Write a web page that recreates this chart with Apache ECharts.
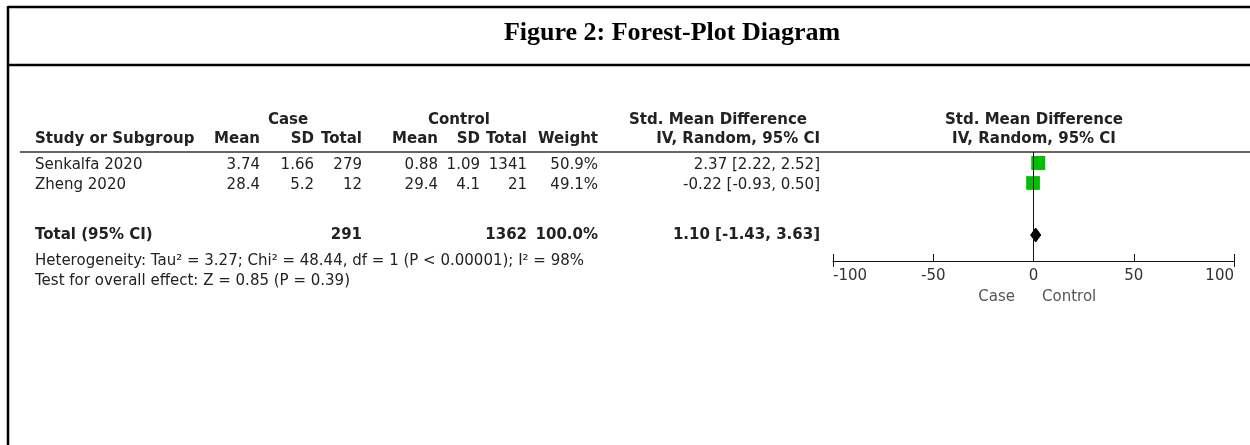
<!DOCTYPE html>
<html><head><meta charset="utf-8">
<script src="https://cdn.jsdelivr.net/npm/echarts@6/dist/echarts.min.js"></script>
<style>html,body{margin:0;padding:0;background:#fff}#c{width:1250px;height:445px}</style>
</head><body><div id="c"></div>
<script>
// ---- data ----
const studies   = ['Senkalfa 2020', 'Zheng 2020'];
const caseMean  = ['3.74', '28.4'];
const caseSD    = ['1.66', '5.2'];
const caseTotal = ['279', '12'];
const ctrlMean  = ['0.88', '29.4'];
const ctrlSD    = ['1.09', '4.1'];
const ctrlTotal = ['1341', '21'];
const weights   = [50.9, 49.1];
const smd       = [2.37, -0.22];
const ciLow     = [2.22, -0.93];
const ciHigh    = [2.52, 0.50];
const pooledEst = [1.10];
const pooledLow = [-1.43];
const pooledHigh= [3.63];
const totalCase = '291';
const totalCtrl = '1362';
const totalWeight = '100.0%';
const xTicks    = [-100, -50, 0, 50, 100];
const hetText   = 'Heterogeneity: Tau\u00b2 = 3.27; Chi\u00b2 = 48.44, df = 1 (P < 0.00001); I\u00b2 = 98%';
const testText  = 'Test for overall effect: Z = 0.85 (P = 0.39)';
const titleText = 'Figure 2: Forest-Plot Diagram';

// ---- layout (rows in y-axis units) ----
const studyRows = [0, 1];
const totalRow = 3.6;
const FONT = '"DejaVu Sans", sans-serif';
const FS = 15;
const TXT = '#222';

const chart = echarts.init(document.getElementById('c'), null, {renderer: 'canvas'});

const fmt = v => v.toFixed(2);
const ciLabels = smd.map((v, i) => `${fmt(v)} [${fmt(ciLow[i])}, ${fmt(ciHigh[i])}]`);
const pooledLabel = `${fmt(pooledEst[0])} [${fmt(pooledLow[0])}, ${fmt(pooledHigh[0])}]`;

const base = {
  animation: false,
  grid: {left: 833, right: 16, top: 152, height: 109, containLabel: false},
  xAxis: [{
    type: 'value', min: -100, max: 100, interval: 50, position: 'bottom',
    axisLine: {show: true, onZero: false, lineStyle: {color: '#111', width: 1}},
    axisTick: {show: true, inside: true, length: 7, lineStyle: {color: '#111'}},
    axisLabel: {color: '#333', fontSize: FS, fontFamily: FONT, margin: 8,
      alignMinLabel: 'left', alignMaxLabel: 'right'},
    splitLine: {show: false}
  }, {
    type: 'value', min: -100, max: 100, position: 'bottom', offset: 0,
    axisLine: {show: false, onZero: false},
    axisTick: {show: true, inside: false, length: 6, customValues: [-100, 100], lineStyle: {color: '#111'}},
    axisLabel: {show: false},
    splitLine: {show: false}
  }],
  yAxis: {type: 'value', inverse: true, min: -0.55, max: 4.9, show: false},
  series: [{
    type: 'custom', z: 2,
    renderItem: (params, api) => {
      const a = api.coord([api.value(0), api.value(2)]);
      const b = api.coord([api.value(1), api.value(2)]);
      return {type: 'line', shape: {x1: a[0], y1: a[1], x2: b[0], y2: b[1]}, style: {stroke: '#000', lineWidth: 1}};
    },
    data: studyRows.map((r, i) => [ciLow[i], ciHigh[i], r]),
    markLine: {
      silent: true, symbol: 'none', label: {show: false},
      lineStyle: {color: '#111', width: 1, type: 'solid'},
      data: [{xAxis: 0}]
    }
  }, {
    type: 'scatter', z: 3, symbol: 'rect',
    symbolSize: (v, p) => 14 * Math.sqrt(weights[p.dataIndex] / 50.9),
    itemStyle: {color: '#00c000', opacity: 1},
    data: studyRows.map((r, i) => [smd[i], r])
  }, {
    type: 'custom', z: 4,
    renderItem: (params, api) => {
      const lo = api.coord([api.value(0), api.value(3)]);
      const est = api.coord([api.value(1), api.value(3)]);
      const hi = api.coord([api.value(2), api.value(3)]);
      const h = 7;
      return {type: 'polygon', shape: {points: [[lo[0], lo[1]], [est[0], est[1] - h], [hi[0], hi[1]], [est[0], est[1] + h]]},
        style: {fill: '#000', stroke: '#000', lineWidth: 1}};
    },
    data: [[pooledLow[0], pooledEst[0], pooledHigh[0], totalRow]]
  }]
};
chart.setOption(base);

const yOf = r => chart.convertToPixel({yAxisIndex: 0}, r) + 2;
const txt = (s, x, y, align, bold, fill) => ({
  type: 'text', x: x, y: y, silent: true,
  style: {text: s, fill: fill || TXT, font: `${bold ? 'bold ' : ''}${FS}px ${FONT}`, align: align, verticalAlign: 'middle'}
});

const cols = {cMean: 260, cSD: 314, cTot: 362, kMean: 438, kSD: 480, kTot: 527, wt: 598, ci: 820};
const g = [];
// frame
g.push({type: 'line', shape: {x1: 8, y1: 7, x2: 1250, y2: 7}, style: {stroke: '#000', lineWidth: 2.5}});
g.push({type: 'line', shape: {x1: 8, y1: 6, x2: 8, y2: 445}, style: {stroke: '#000', lineWidth: 2.5}});
g.push({type: 'line', shape: {x1: 8, y1: 65, x2: 1250, y2: 65}, style: {stroke: '#000', lineWidth: 2.5}});
g.push({type: 'text', x: 672, y: 33, style: {text: titleText, fill: '#000', font: 'bold 26px "Liberation Serif", "Times New Roman", serif', align: 'center', verticalAlign: 'middle'}});
// header rule
g.push({type: 'line', shape: {x1: 20, y1: 152, x2: 1250, y2: 152}, style: {stroke: '#333', lineWidth: 1.5}});

const h1 = yOf(-2.25), h2 = yOf(-1.3);
g.push(txt('Case', 288, h1, 'center', true));
g.push(txt('Control', 459, h1, 'center', true));
g.push(txt('Std. Mean Difference', 718, h1, 'center', true));
g.push(txt('Std. Mean Difference', 1034, h1, 'center', true));
g.push(txt('Study or Subgroup', 35, h2, 'left', true));
g.push(txt('Mean', cols.cMean, h2, 'right', true));
g.push(txt('SD', cols.cSD, h2, 'right', true));
g.push(txt('Total', cols.cTot, h2, 'right', true));
g.push(txt('Mean', cols.kMean, h2, 'right', true));
g.push(txt('SD', cols.kSD, h2, 'right', true));
g.push(txt('Total', cols.kTot, h2, 'right', true));
g.push(txt('Weight', cols.wt, h2, 'right', true));
g.push(txt('IV, Random, 95% CI', cols.ci, h2, 'right', true));
g.push(txt('IV, Random, 95% CI', 1034, h2, 'center', true));

studyRows.forEach((r, i) => {
  const y = yOf(r);
  g.push(txt(studies[i], 35, y, 'left'));
  g.push(txt(caseMean[i], cols.cMean, y, 'right'));
  g.push(txt(caseSD[i], cols.cSD, y, 'right'));
  g.push(txt(caseTotal[i], cols.cTot, y, 'right'));
  g.push(txt(ctrlMean[i], cols.kMean, y, 'right'));
  g.push(txt(ctrlSD[i], cols.kSD, y, 'right'));
  g.push(txt(ctrlTotal[i], cols.kTot, y, 'right'));
  g.push(txt(weights[i].toFixed(1) + '%', cols.wt, y, 'right'));
  g.push(txt(ciLabels[i], cols.ci, y, 'right'));
});
const ty = yOf(totalRow) - 2;
g.push(txt('Total (95% CI)', 35, ty, 'left', true));
g.push(txt(totalCase, cols.cTot, ty, 'right', true));
g.push(txt(totalCtrl, cols.kTot, ty, 'right', true));
g.push(txt(totalWeight, cols.wt, ty, 'right', true));
g.push(txt(pooledLabel, cols.ci, ty, 'right', true));
g.push(txt(hetText, 35, yOf(4.8), 'left'));
g.push(txt(testText, 35, yOf(5.8), 'left'));
g.push(txt('Case', 1015, 297, 'right', false, '#555'));
g.push(txt('Control', 1042, 297, 'left', false, '#555'));

chart.setOption({graphic: {elements: g}});
</script>
</body></html>
